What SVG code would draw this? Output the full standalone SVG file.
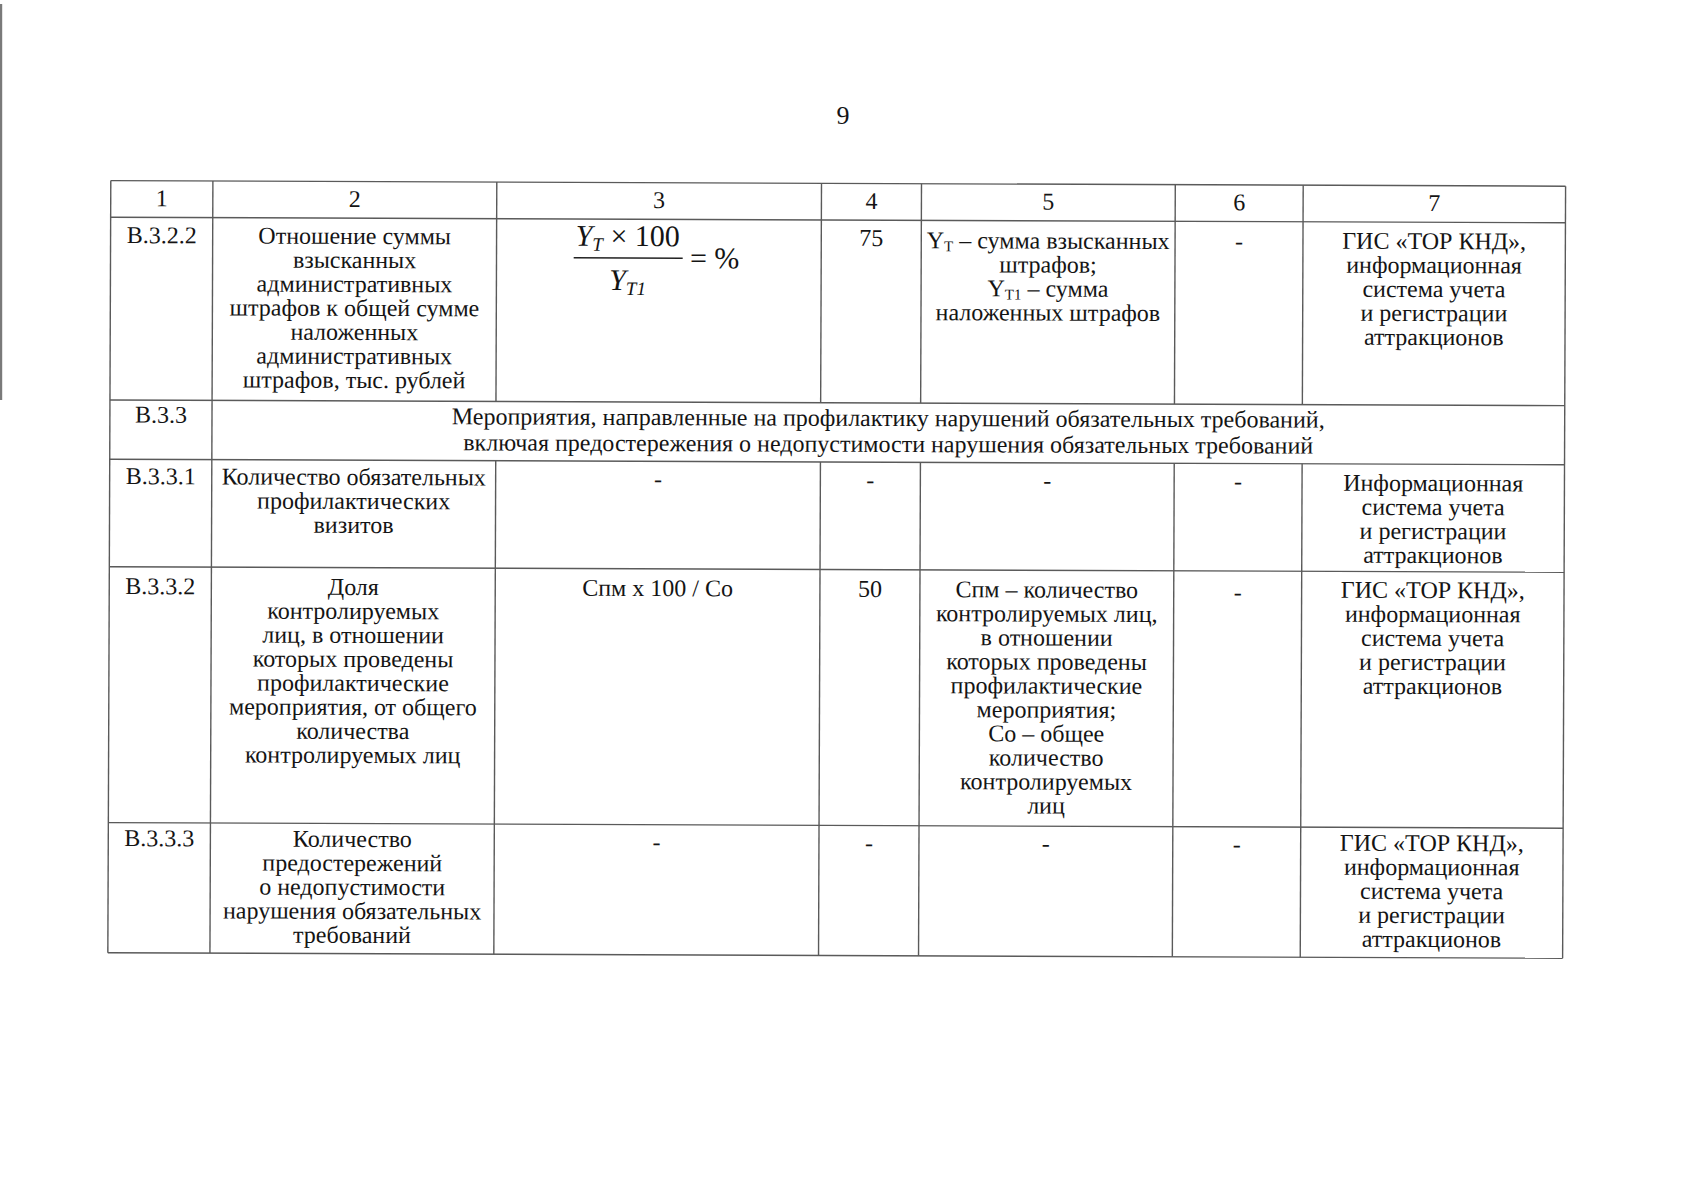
<svg xmlns="http://www.w3.org/2000/svg" width="1686" height="1200" viewBox="0 0 1686 1200">
<style>
text{font-family:"Liberation Serif","Times New Roman",serif;font-size:24px;fill:#141414;text-anchor:middle}
.grid line{stroke:#5a5a5a;stroke-width:1.4}
.it{font-style:italic}
.sub{font-size:15px}
</style>
<rect x="0" y="0" width="1686" height="1200" fill="#fff"/>
<rect x="0" y="4" width="2.2" height="396" fill="#7a7a7a"/>
<text x="843" y="124" style="font-size:26px">9</text>
<g transform="rotate(0.22 111 181)">
<g id="grid" class="grid">
<line x1="110.8" y1="180.6" x2="1565.6" y2="180.6"/>
<line x1="110.8" y1="217.2" x2="1565.6" y2="217.2"/>
<line x1="110.8" y1="400" x2="1565.6" y2="400"/>
<line x1="110.8" y1="459.2" x2="1565.6" y2="459.2"/>
<line x1="110.8" y1="566.7" x2="1565.6" y2="566.7"/>
<line x1="110.8" y1="822.6" x2="1565.6" y2="822.6"/>
<line x1="110.8" y1="952.7" x2="1565.6" y2="952.7"/>
<line x1="110.8" y1="180.6" x2="110.8" y2="952.7"/>
<line x1="212.9" y1="180.6" x2="212.9" y2="952.7"/>
<line x1="1565.6" y1="180.6" x2="1565.6" y2="952.7"/>
<line x1="496.8" y1="180.6" x2="496.8" y2="400"/>
<line x1="821.5" y1="180.6" x2="821.5" y2="400"/>
<line x1="921.5" y1="180.6" x2="921.5" y2="400"/>
<line x1="1175.3" y1="180.6" x2="1175.3" y2="400"/>
<line x1="1303.2" y1="180.6" x2="1303.2" y2="400"/>
<line x1="496.8" y1="459.2" x2="496.8" y2="952.7"/>
<line x1="821.5" y1="459.2" x2="821.5" y2="952.7"/>
<line x1="921.5" y1="459.2" x2="921.5" y2="952.7"/>
<line x1="1175.3" y1="459.2" x2="1175.3" y2="952.7"/>
<line x1="1303.2" y1="459.2" x2="1303.2" y2="952.7"/>
</g>
<g id="header">
<text x="161.9" y="206">1</text>
<text x="354.9" y="206">2</text>
<text x="659.2" y="206">3</text>
<text x="871.5" y="206">4</text>
<text x="1048.4" y="206">5</text>
<text x="1239.3" y="206">6</text>
<text x="1434.4" y="206">7</text>
</g>
<g id="row-B322">
<text x="161.9" y="243">В.3.2.2</text>
<text x="354.9" y="243">Отношение суммы</text>
<text x="354.9" y="267">взысканных</text>
<text x="354.9" y="291">административных</text>
<text x="354.9" y="315">штрафов к общей сумме</text>
<text x="354.9" y="339">наложенных</text>
<text x="354.9" y="363">административных</text>
<text x="354.9" y="387">штрафов, тыс. рублей</text>
<text x="628" y="244" style="font-size:30px"><tspan class="it">Y</tspan><tspan class="it" style="font-size:19px" dy="5">T</tspan><tspan dy="-5"> × 100</tspan></text>
<line x1="574" y1="256" x2="683" y2="256" stroke="#222" stroke-width="1.6"/>
<text x="628" y="288" style="font-size:30px"><tspan class="it">Y</tspan><tspan class="it" style="font-size:19px" dy="5">T1</tspan></text>
<text x="715" y="266" style="font-size:30px">= %</text>
<text x="871.5" y="243">75</text>
<text x="1048.4" y="245">Y<tspan class="sub" dy="3">T</tspan><tspan dy="-3"> – сумма взысканных</tspan></text>
<text x="1048.4" y="269">штрафов;</text>
<text x="1048.4" y="293">Y<tspan class="sub" dy="3">T1</tspan><tspan dy="-3"> – сумма</tspan></text>
<text x="1048.4" y="317">наложенных штрафов</text>
<text x="1239.3" y="245">-</text>
<text x="1434.4" y="244">ГИС «ТОР КНД»,</text>
<text x="1434.4" y="268">информационная</text>
<text x="1434.4" y="292">система учета</text>
<text x="1434.4" y="316">и регистрации</text>
<text x="1434.4" y="340">аттракционов</text>
</g>
<g id="row-B33">
<text x="161.9" y="422.5">В.3.3</text>
<text x="889.2" y="423">Мероприятия, направленные на профилактику нарушений обязательных требований,</text>
<text x="889.2" y="449">включая предостережения о недопустимости нарушения обязательных требований</text>
</g>
<g id="row-B331">
<text x="161.9" y="484">В.3.3.1</text>
<text x="354.9" y="484">Количество обязательных</text>
<text x="354.9" y="508">профилактических</text>
<text x="354.9" y="532">визитов</text>
<text x="659.2" y="485">-</text>
<text x="871.5" y="485">-</text>
<text x="1048.4" y="485">-</text>
<text x="1239.3" y="485">-</text>
<text x="1434.4" y="486">Информационная</text>
<text x="1434.4" y="510">система учета</text>
<text x="1434.4" y="534">и регистрации</text>
<text x="1434.4" y="558">аттракционов</text>
</g>
<g id="row-B332">
<text x="161.9" y="594">В.3.3.2</text>
<text x="354.9" y="594">Доля</text>
<text x="354.9" y="618">контролируемых</text>
<text x="354.9" y="642">лиц, в отношении</text>
<text x="354.9" y="666">которых проведены</text>
<text x="354.9" y="690">профилактические</text>
<text x="354.9" y="714">мероприятия, от общего</text>
<text x="354.9" y="738">количества</text>
<text x="354.9" y="762">контролируемых лиц</text>
<text x="659.2" y="594">Спм x 100 / Со</text>
<text x="871.5" y="594">50</text>
<text x="1048.4" y="594">Спм – количество</text>
<text x="1048.4" y="618">контролируемых лиц,</text>
<text x="1048.4" y="642">в отношении</text>
<text x="1048.4" y="666">которых проведены</text>
<text x="1048.4" y="690">профилактические</text>
<text x="1048.4" y="714">мероприятия;</text>
<text x="1048.4" y="738">Со – общее</text>
<text x="1048.4" y="762">количество</text>
<text x="1048.4" y="786">контролируемых</text>
<text x="1048.4" y="810">лиц</text>
<text x="1239.3" y="596">-</text>
<text x="1434.4" y="593">ГИС «ТОР КНД»,</text>
<text x="1434.4" y="617">информационная</text>
<text x="1434.4" y="641">система учета</text>
<text x="1434.4" y="665">и регистрации</text>
<text x="1434.4" y="689">аттракционов</text>
</g>
<g id="row-B333">
<text x="161.9" y="846">В.3.3.3</text>
<text x="354.9" y="846">Количество</text>
<text x="354.9" y="870">предостережений</text>
<text x="354.9" y="894">о недопустимости</text>
<text x="354.9" y="918">нарушения обязательных</text>
<text x="354.9" y="942">требований</text>
<text x="659.2" y="848">-</text>
<text x="871.5" y="848">-</text>
<text x="1048.4" y="848">-</text>
<text x="1239.3" y="848">-</text>
<text x="1434.4" y="846">ГИС «ТОР КНД»,</text>
<text x="1434.4" y="870">информационная</text>
<text x="1434.4" y="894">система учета</text>
<text x="1434.4" y="918">и регистрации</text>
<text x="1434.4" y="942">аттракционов</text>
</g>
</g>
</svg>
